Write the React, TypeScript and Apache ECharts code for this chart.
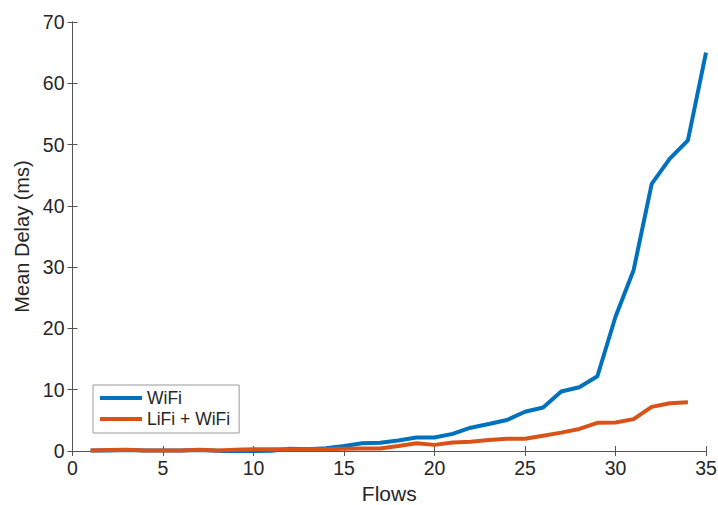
import React, { useEffect, useRef } from "react";
import * as echarts from "echarts";

const flowsWifi = [1,2,3,4,5,6,7,8,9,10,11,12,13,14,15,16,17,18,19,20,21,22,23,24,25,26,27,28,29,30,31,32,33,34,35];
const wifiDelay = [0.1,0.1,0.15,0.1,0.1,0.1,0.15,0.05,-0.1,0.0,0.05,0.35,0.3,0.45,0.8,1.25,1.35,1.7,2.2,2.2,2.8,3.8,4.4,5.05,6.4,7.1,9.7,10.4,12.2,21.9,29.5,43.6,47.7,50.7,65.0];
const flowsLifi = [1,2,3,4,5,6,7,8,9,10,11,12,13,14,15,16,17,18,19,20,21,22,23,24,25,26,27,28,29,30,31,32,33,34];
const lifiDelay = [0.1,0.15,0.2,0.1,0.1,0.1,0.2,0.1,0.2,0.3,0.3,0.3,0.3,0.3,0.35,0.4,0.4,0.8,1.25,1.0,1.4,1.5,1.8,2.0,2.0,2.5,3.0,3.6,4.6,4.65,5.2,7.2,7.8,7.95];
const seriesNames = ["WiFi", "LiFi + WiFi"];
const colors = ["#0072BD", "#D95319"];

const FONT = "Liberation Sans, Arial, Helvetica, sans-serif";
const AXIS_COLOR = "#555";

export default function App() {
  const ref = useRef<HTMLDivElement>(null);
  useEffect(() => {
    if (!ref.current) return;
    const chart = echarts.init(ref.current, undefined, { renderer: "svg" });
    const baseAxisLine = { show: true, lineStyle: { color: AXIS_COLOR, width: 1 } };
    const tick = { show: true, inside: true, length: 5, lineStyle: { color: AXIS_COLOR } };
    chart.setOption({
      animation: false,
      grid: { left: 72.5, right: 12, top: 22, bottom: 54, containLabel: false, outerBoundsMode: "none" },
      legend: {
        orient: "vertical",
        left: 93,
        top: 385,
        data: seriesNames,
        icon: "rect",
        itemWidth: 42,
        itemHeight: 4,
        itemGap: 3,
        padding: [4, 9, 5, 7],
        borderColor: "#999",
        borderWidth: 1,
        backgroundColor: "#fff",
        textStyle: { fontFamily: FONT, fontSize: 17.5, color: "#262626", padding: [0, 0, 0, 0] },
      },
      xAxis: [
        {
          type: "value",
          min: 0,
          max: 35,
          interval: 5,
          name: "Flows",
          nameLocation: "middle",
          nameGap: 31,
          nameTextStyle: { fontFamily: FONT, fontSize: 21, color: "#262626" },
          axisLine: baseAxisLine,
          axisTick: tick,
          axisLabel: { fontFamily: FONT, fontSize: 19.5, color: "#262626", margin: 7 },
          splitLine: { show: false },
        },
        {
          type: "value",
          position: "top",
          min: 0,
          max: 35,
          interval: 5,
          axisLine: baseAxisLine,
          axisTick: tick,
          axisLabel: { show: false },
          splitLine: { show: false },
        },
      ],
      yAxis: [
        {
          type: "value",
          min: 0,
          max: 70,
          interval: 10,
          name: "Mean Delay (ms)",
          nameLocation: "middle",
          nameGap: 38,
          nameTextStyle: { fontFamily: FONT, fontSize: 20, color: "#262626" },
          axisLine: baseAxisLine,
          axisTick: tick,
          axisLabel: { fontFamily: FONT, fontSize: 19.5, color: "#262626", margin: 8 },
          splitLine: { show: false },
        },
        {
          type: "value",
          position: "right",
          min: 0,
          max: 70,
          interval: 10,
          axisLine: baseAxisLine,
          axisTick: tick,
          axisLabel: { show: false },
          splitLine: { show: false },
        },
      ],
      series: [
        {
          name: seriesNames[0],
          type: "line",
          data: flowsWifi.map((f, i) => [f, wifiDelay[i]]),
          showSymbol: false,
          symbol: "none",
          lineStyle: { color: colors[0], width: 4 },
          itemStyle: { color: colors[0] },
          z: 2,
        },
        {
          name: seriesNames[1],
          type: "line",
          data: flowsLifi.map((f, i) => [f, lifiDelay[i]]),
          showSymbol: false,
          symbol: "none",
          lineStyle: { color: colors[1], width: 4 },
          itemStyle: { color: colors[1] },
          z: 3,
        },
      ],
    });
    return () => chart.dispose();
  }, []);
  return <div ref={ref} style={{ width: 718, height: 505, position: "absolute", left: 0, top: 0 }} />;
}
